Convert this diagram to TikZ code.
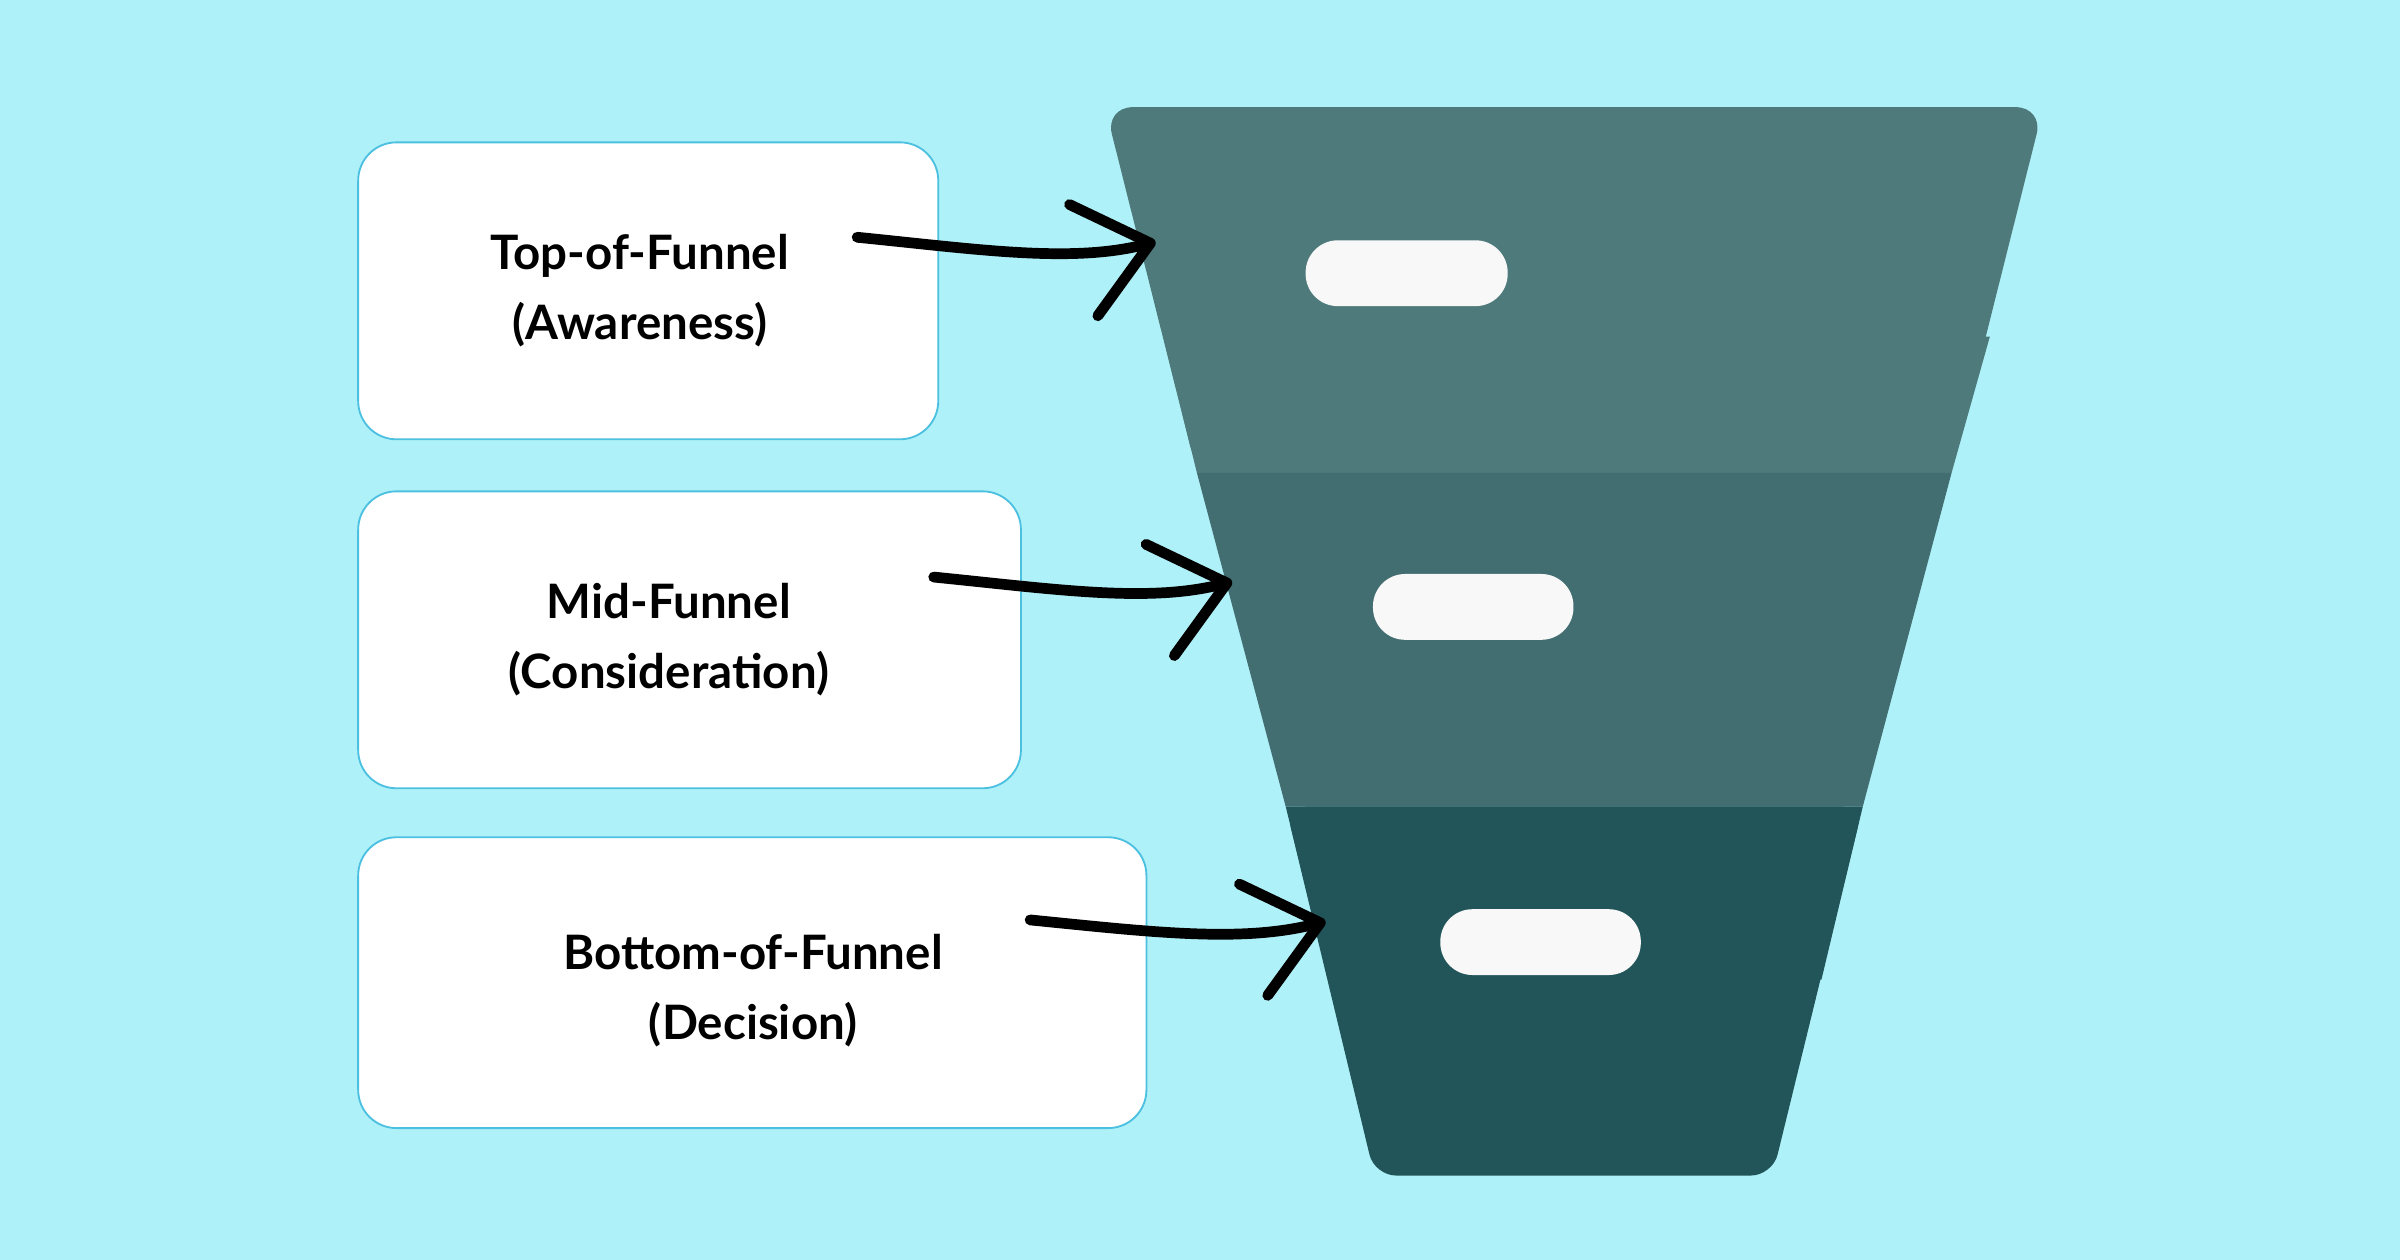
\documentclass[tikz,border=0pt]{standalone}
\usepackage{fontspec}
\setmainfont{Lato}
\usetikzlibrary{arrows.meta}
\definecolor{bgblue}{HTML}{AFF1F8}
\definecolor{boxline}{HTML}{4CC0E0}
\definecolor{fnltop}{HTML}{4E7A7C}
\definecolor{fnlmid}{HTML}{426D71}
\definecolor{fnlbot}{HTML}{22555A}
\definecolor{pill}{HTML}{F8F8F8}
\tikzset{
  stage/.style={draw=boxline, line width=1.2pt, fill=white, rounded corners=25pt},
  stagetext/.style={align=center, font=\fontsize{31}{46}\selectfont\bfseries},
  pillbar/.style={fill=pill, rounded corners=21pt},
  handarrow/.style={line width=7pt, line cap=round, -{Straight Barb[length=45pt,width=75pt,line width=7pt,round]}},
}
\begin{document}
\begin{tikzpicture}[x=1pt,y=1pt,yscale=-1]
\useasboundingbox (0,0) rectangle (1568,823);
\fill[bgblue] (0,0) rectangle (1568,823);

%Funnel sections
\fill[fnltop, rounded corners=18pt] (782,309) -- (722,70) -- (1335,70) -- (1275,309) -- cycle;
\fill[fnltop] (782,309) -- (760,220) -- (1300,220) -- (1275,309) -- cycle;
\fill[fnlmid] (782,309) -- (1275,309) -- (1217,527) -- (840,527) -- cycle;
\fill[fnlbot, rounded corners=14pt] (840,527) -- (1217,527) -- (1158,768) -- (898,768) -- cycle;
\fill[fnlbot] (840,527) -- (1217,527) -- (1190,640) -- (868,640) -- cycle;

%Pills
\fill[pillbar] (853,157) rectangle (985,200);
\fill[pillbar] (897,375) rectangle (1028,418);
\fill[pillbar] (941,594) rectangle (1072,637);

%Stage boxes
\draw[stage] (234,93) rectangle (613,287);
\draw[stage] (234,321) rectangle (667,515);
\draw[stage] (234,547) rectangle (749,737);

% Text Node
\node[stagetext] (tof) at (418,190) {Top-of-Funnel\\(Awareness)};
% Text Node
\node[stagetext] (mof) at (437,418) {Mid-Funnel\\(Consideration)};
% Text Node
\node[stagetext] (bof) at (492,647) {Bottom-of-Funnel\\(Decision)};

\coordinate (tofa) at (560,155);
\coordinate (tofb) at (755,158);
\coordinate (mofa) at (610,377);
\coordinate (mofb) at (805,380);
\coordinate (bofa) at (673,601);
\coordinate (bofb) at (866,602);

%Arrows
\draw[handarrow] (tofa) .. controls (640,163) and (700,172) .. (tofb);
\draw[handarrow] (mofa) .. controls (690,385) and (750,394) .. (mofb);
\draw[handarrow] (bofa) .. controls (753,609) and (811,616) .. (bofb);
\end{tikzpicture}
\end{document}
